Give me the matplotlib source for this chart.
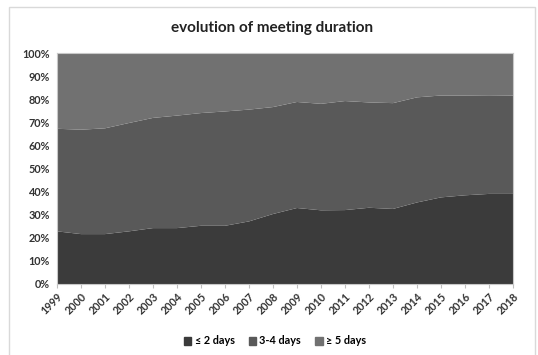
import matplotlib.pyplot as plt
import matplotlib.patches as mpatches
import numpy as np

years = list(range(1999, 2019))
upto2 = [22.8, 21.6, 21.6, 22.8, 24.2, 24.2, 25.2, 25.2, 27.1, 30.3,
         32.9, 31.9, 32.0, 33.0, 32.5, 35.3, 37.5, 38.4, 39.0, 39.0]
cum34 = [67.2, 66.8, 67.4, 69.7, 71.9, 72.9, 74.0, 74.7, 75.5, 76.6,
         78.8, 78.0, 79.2, 78.6, 78.3, 80.8, 81.6, 81.6, 81.7, 81.6]
days34 = [c - a for c, a in zip(cum34, upto2)]
over5 = [100 - c for c in cum34]
labels = ["\u2264 2 days", "3-4 days", "\u2265 5 days"]
colors = ["#3b3b3b", "#595959", "#717171"]

plt.rcParams["font.family"] = ["Lato", "DejaVu Sans"]

fig = plt.figure(figsize=(5.38, 3.55), dpi=100)
fig.patches.append(mpatches.Rectangle((9 / 538, -0.1), 526 / 538, 1.1 - 7 / 355,
                                      transform=fig.transFigure, fill=False,
                                      edgecolor="#d9d9d9", linewidth=1))
ax = fig.add_axes([57 / 538, 71 / 355, 456 / 538, 231 / 355])
ax.stackplot(years, upto2, days34, over5, colors=colors, labels=labels, linewidth=0)

ax.set_xlim(1999, 2018)
ax.set_ylim(0, 100)
ax.set_yticks(range(0, 101, 10))
ax.set_yticklabels([f"{v}%" for v in range(0, 101, 10)], fontsize=7.8, fontweight="bold", color="#333333")
ax.set_xticks(years)
ax.set_xticklabels([str(y) for y in years], rotation=45, ha="right", rotation_mode="anchor",
                   fontsize=7.8, fontweight="bold", color="#333333")
ax.tick_params(axis="y", length=0, pad=5)
ax.tick_params(axis="x", length=3, color="#bfbfbf", pad=2)
for s in ax.spines.values():
    s.set_color("#c8c8c8")
    s.set_linewidth(0.8)

fig.text(0.505, 1 - 28 / 355, "evolution of meeting duration", ha="center", va="center",
         fontsize=11, fontweight="bold", color="#222222")

handles = [mpatches.Patch(color=c) for c in colors]
fig.legend(handles, labels, loc="center", bbox_to_anchor=(275 / 538, 1 - 341 / 355), ncol=3,
           frameon=False, handlelength=0.7, handleheight=0.7, handletextpad=0.3,
           columnspacing=1.3, prop={"weight": "bold", "size": 7.8})

fig.savefig("out.png", dpi=100)
